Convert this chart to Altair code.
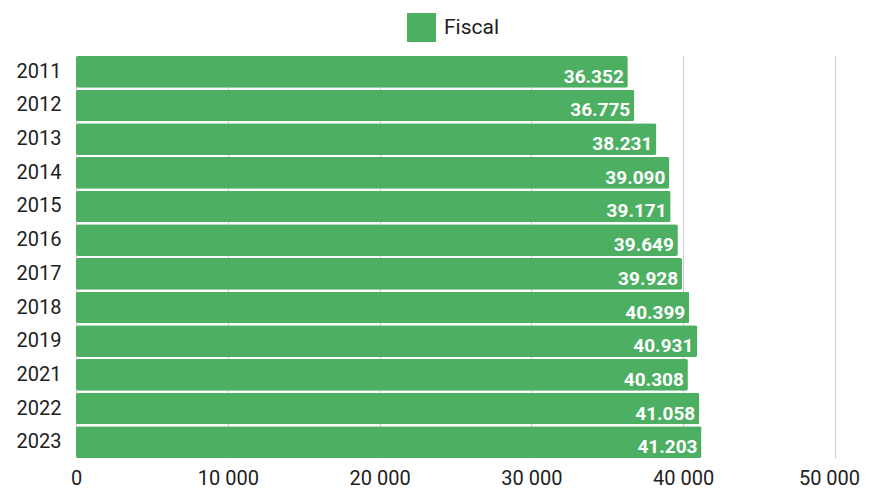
import altair as alt
import pandas as pd

years = ["2011", "2012", "2013", "2014", "2015", "2016", "2017", "2018", "2019", "2021", "2022", "2023"]
values = [36352, 36775, 38231, 39090, 39171, 39649, 39928, 40399, 40931, 40308, 41058, 41203]
series = "Fiscal"
x_ticks = [0, 10000, 20000, 30000, 40000, 50000]

df = pd.DataFrame({"year": years, "value": values, "serie": [series] * len(years)})

FONT = "Roboto"
GREEN = "#4caf62"
TXT = "#212121"

base = alt.Chart(df).encode(
    y=alt.Y("year:N", sort=years, title=None,
            scale=alt.Scale(paddingInner=0.06, paddingOuter=0.0),
            axis=alt.Axis(domain=False, ticks=False, labelFontSize=20, labelFont=FONT,
                          labelColor=TXT, labelPadding=15, grid=False)),
)

bars = base.mark_bar(cornerRadius=2).encode(
    x=alt.X("value:Q", title=None,
            scale=alt.Scale(domain=[0, 50000], nice=False),
            axis=alt.Axis(values=x_ticks, domain=False, ticks=False, grid=True,
                          gridColor="#cccccc", gridWidth=1,
                          labelFontSize=20, labelFont=FONT, labelColor=TXT,
                          labelPadding=10, labelFlush=False, labelOverlap=False,
                          labelOffset=alt.condition("datum.value == 50000", alt.value(-6), alt.value(0)),
                          labelExpr="replace(format(datum.value, ','), ',', ' ')")),
    color=alt.Color("serie:N", scale=alt.Scale(domain=[series], range=[GREEN]),
                    legend=alt.Legend(title=None, orient="none", legendX=331, legendY=-43,
                                      symbolType="square", symbolSize=841,
                                      symbolStrokeWidth=0, labelFontSize=21,
                                      labelFont=FONT, labelColor=TXT, labelOffset=8)),
)

labels = base.mark_text(align="right", baseline="middle", dx=-4, dy=5,
                        font=FONT, fontSize=19, fontWeight="bold", color="white").encode(
    x=alt.X("value:Q"),
    text=alt.Text("label:N"),
).transform_calculate(label="replace(format(datum.value, ','), ',', '.')")

chart = (bars + labels).properties(
    width=759, height=402, background="white",
    padding={"left": 8, "top": 5, "right": 0, "bottom": 5},
).configure_view(stroke=None)

chart.save("out.html", embed_options={"renderer": "svg", "actions": False})
